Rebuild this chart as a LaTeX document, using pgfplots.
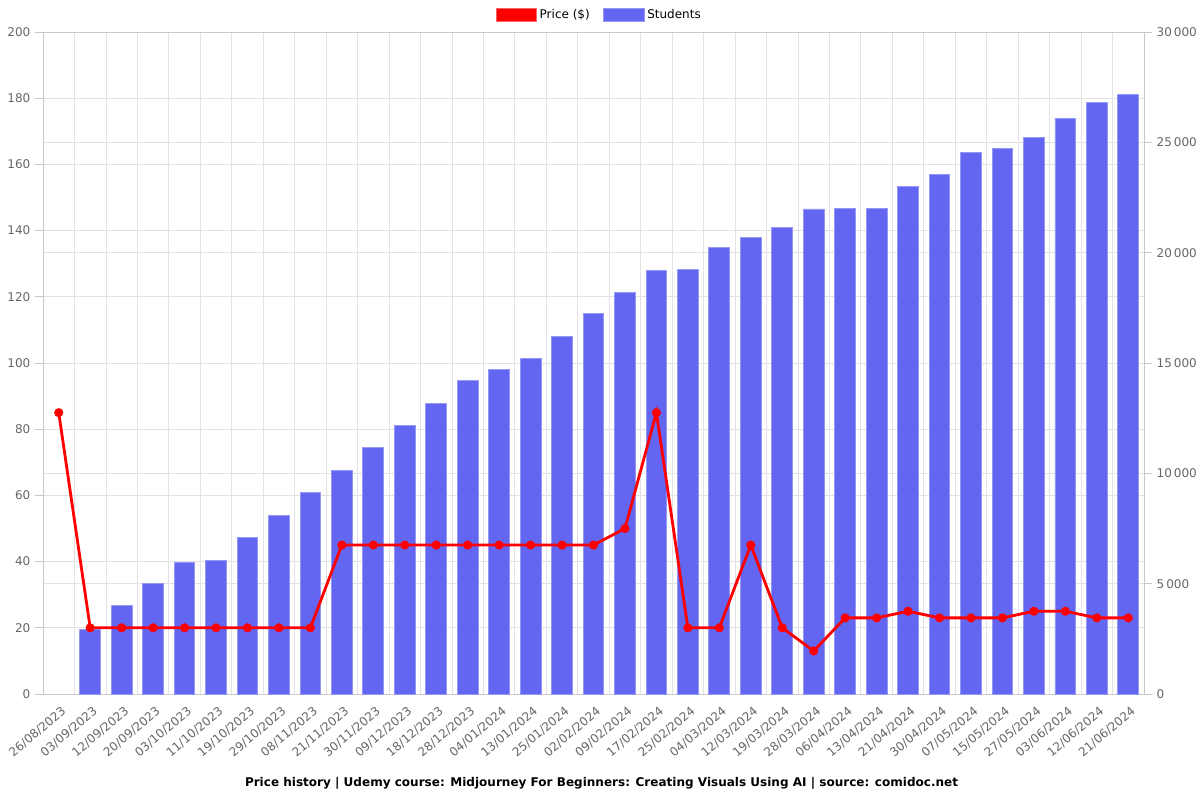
\documentclass[border=0pt]{standalone}
\usepackage{fontspec}
\setmainfont{DejaVu Sans}
\usepackage{graphicx}
\usepackage{pgfplots}
\usepackage{pgfplotstable}
\pgfplotsset{compat=1.18}

\definecolor{barfill}{RGB}{99,102,241}
\definecolor{barline}{RGB}{150,152,246}
\definecolor{gridc}{RGB}{226,226,226}
\definecolor{axisc}{RGB}{200,200,200}
\definecolor{tickc}{RGB}{102,102,102}

\pgfplotstableread{
idx date students price
0 26/08/2023 nan 85
1 03/09/2023 2945 20
2 12/09/2023 3990 20
3 20/09/2023 5020 20
4 03/10/2023 5970 20
5 11/10/2023 6070 20
6 19/10/2023 7085 20
7 29/10/2023 8100 20
8 08/11/2023 9120 20
9 21/11/2023 10140 45
10 30/11/2023 11170 45
11 09/12/2023 12180 45
12 18/12/2023 13175 45
13 28/12/2023 14200 45
14 04/01/2024 14715 45
15 13/01/2024 15215 45
16 25/01/2024 16220 45
17 02/02/2024 17230 45
18 09/02/2024 18215 50
19 17/02/2024 19200 85
20 25/02/2024 19255 20
21 04/03/2024 20255 20
22 12/03/2024 20705 45
23 19/03/2024 21160 20
24 28/03/2024 21980 13
25 06/04/2024 21985 23
26 13/04/2024 21985 23
27 21/04/2024 23010 25
28 30/04/2024 23550 23
29 07/05/2024 24560 23
30 15/05/2024 24730 23
31 27/05/2024 25210 25
32 03/06/2024 26090 25
33 12/06/2024 26815 23
34 21/06/2024 27160 23
}\data

\pgfplotsset{
  base/.style={
    scale only axis,
    width=825.75pt, height=496.5pt,
    xmin=-0.5, xmax=34.5,
    ymin=0,
    axis line style={axisc},
    tick style={axisc, line width=0.6pt},
    tick align=outside,
    ticklabel style={font=\fontsize{9}{10}\selectfont, text=tickc},
    /pgf/number format/assume math mode=true,
  }
}

\begin{document}
\begin{tikzpicture}
% students (right axis), grid and x labels
\begin{axis}[base,
    ymax=30000,
    ytick={0,5000,...,30000},
    ytick pos=right,
    yticklabel pos=right,
    major tick length=6pt,
    yticklabel style={/pgf/number format/.cd, 1000 sep={\,}, fixed},
    scaled y ticks=false,
    ymajorgrids,
    extra y ticks={3000,6000,9000,12000,15000,18000,21000,24000,27000},
    extra y tick labels={},
    extra y tick style={grid=major, major tick length=0pt},
    grid style={gridc, line width=0.6pt},
    xtick={0,...,34},
    xticklabels from table={\data}{date},
    xtick pos=bottom,
    x tick style={draw=none},
    minor xtick={-0.5,0.5,...,34.5},
    minor tick length=6pt,
    minor x tick style={axisc, line width=0.6pt},
    xminorgrids,
    minor grid style={gridc, line width=0.6pt},
    xticklabel style={rotate=40, anchor=north east, inner sep=1pt, yshift=-2pt, xshift=0.5pt},
  ]
  \addplot[ybar, bar width=0.66, fill=barfill, draw=barline, line width=0.7pt]
    table[x=idx, y=students] {\data};
\end{axis}
% price (left axis)
\begin{axis}[base,
    ymax=200,
    ytick={0,20,...,200},
    ytick pos=left,
    major tick length=6pt,
    hide x axis,
    axis y line*=left,
    legend columns=2,
    legend style={at={(0.5,1)}, anchor=center, yshift=12.75pt, xshift=4.5pt,
      draw=none, fill=none, font=\fontsize{9}{10}\selectfont,
      /tikz/every even column/.append style={column sep=8pt}},
    legend cell align=left,
  ]
  \addplot[red, line width=2.1pt, mark=*, mark size=2.3pt, forget plot]
    table[x=idx, y=price] {\data};
  \addlegendimage{legend image code/.code={\fill[red] (0pt,-5pt) rectangle (30.5pt,5.3pt);
      \draw[red!60!white, line width=0.6pt] (0pt,-5pt) rectangle (30.5pt,5.3pt);}}
  \addlegendimage{legend image code/.code={\fill[barfill] (0pt,-5pt) rectangle (30.5pt,5.3pt);
      \draw[barline, line width=0.6pt] (0pt,-5pt) rectangle (30.5pt,5.3pt);}}
  \legend{Price (\$), Students}
\end{axis}
\node[font=\bfseries\fontsize{9}{10}\selectfont, black, inner sep=0pt] at (418.9pt,-66.75pt)
  {\resizebox{534.75pt}{\height}{Price history | Udemy course: Midjourney For Beginners: Creating Visuals Using AI | source: comidoc.net}};
\pgfresetboundingbox
\path (-32.25pt,-79.5pt) rectangle (867.75pt,520.5pt);
\end{tikzpicture}
\end{document}
